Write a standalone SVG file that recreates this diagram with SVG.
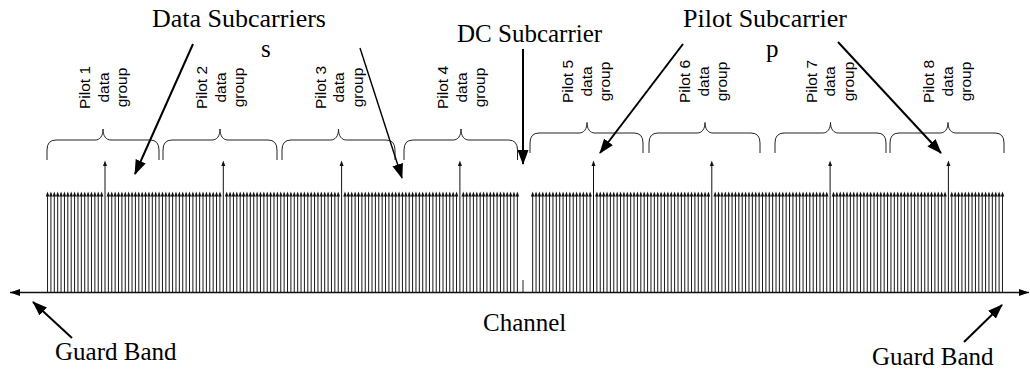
<svg xmlns="http://www.w3.org/2000/svg" width="1030" height="369" viewBox="0 0 1030 369">
<style>
.br{fill:none;stroke:#222;stroke-width:1}
.lab{font-family:"Liberation Serif","Times New Roman",serif;font-size:25px;fill:#000}
.big{font-size:26px}
.gl{font-family:"Liberation Sans",Arial,sans-serif;font-size:15.5px;fill:#000;text-anchor:middle}
.arr{stroke:#000;stroke-width:2;fill:none;marker-end:url(#ah)}
.axis{stroke:#111;stroke-width:1.3;fill:none;marker-start:url(#ax);marker-end:url(#ax)}
</style>
<defs>
<marker id="ah" markerUnits="userSpaceOnUse" viewBox="0 0 15 11" markerWidth="15" markerHeight="11" refX="14" refY="5.5" orient="auto"><path d="M0,0 L15,5.5 L0,11 Z" fill="#000"/></marker>
<marker id="ax" markerUnits="userSpaceOnUse" viewBox="0 0 10 7" markerWidth="10" markerHeight="7" refX="10" refY="3.5" orient="auto-start-reverse"><path d="M0,0 L10,3.5 L0,7 Z" fill="#000"/></marker>
<g id="d"><line x1="0" y1="195" x2="0" y2="292.5" stroke="#1a1a1a" stroke-width="1"/><path d="M-1.8,196.5 L0,191.5 L1.8,196.5 Z" fill="#111"/></g>
<g id="d5"><use href="#d"/><use href="#d" x="3.38"/><use href="#d" x="6.76"/><use href="#d" x="10.14"/><use href="#d" x="13.52"/></g>
<g id="d10"><use href="#d5"/><use href="#d5" x="16.9"/></g>
<g id="d30"><use href="#d10"/><use href="#d10" x="33.8"/><use href="#d10" x="67.6"/></g>
<g id="d34"><use href="#d30"/><use href="#d" x="101.4"/><use href="#d" x="104.78"/><use href="#d" x="108.16"/><use href="#d" x="111.54"/></g>
<g id="d16"><use href="#d10"/><use href="#d5" x="33.8"/><use href="#d" x="50.7"/></g>
<g id="d17"><use href="#d16"/><use href="#d" x="54.08"/></g>
<g id="d18"><use href="#d17"/><use href="#d" x="57.46"/></g>
<g id="p"><line x1="0" y1="165" x2="0" y2="292.5" stroke="#111" stroke-width="1"/><path d="M-2,166 L0,160.5 L2,166 Z" fill="#111"/></g>
</defs>
<rect width="1030" height="369" fill="#fff"/>

<g id="subcarriers">
<use href="#d17" x="47.54"/>
<use href="#p" x="105"/>
<use href="#d34" x="108.38"/>
<use href="#p" x="223.3"/>
<use href="#d34" x="226.68"/>
<use href="#p" x="341.6"/>
<use href="#d34" x="344.98"/>
<use href="#p" x="459.9"/>
<use href="#d17" x="463.28"/>
<line x1="523" y1="280" x2="523" y2="292.5" stroke="#222" stroke-width="1"/>
<use href="#d18" x="532.66"/>
<use href="#p" x="593.5"/>
<use href="#d34" x="596.88"/>
<use href="#p" x="711.8"/>
<use href="#d34" x="715.18"/>
<use href="#p" x="830.1"/>
<use href="#d34" x="833.48"/>
<use href="#p" x="948.4"/>
<use href="#d16" x="951.78"/>
</g>

<g id="axis"><line class="axis" x1="10" y1="292.5" x2="1029" y2="292.5"/></g>

<g id="group1"><path class="br" d="M47,160 V150 Q47,140 56,140 H95 C100,140 103,136 103,129 C103,136 106,140 111,140 H150 Q159,140 159,150 V160"/>
<text class="gl" transform="translate(90,87.5) rotate(-90)">Pilot 1</text><text class="gl" transform="translate(108.5,87.5) rotate(-90)">data</text><text class="gl" transform="translate(127,87.5) rotate(-90)">group</text></g>
<g id="group2"><path class="br" d="M163,160 V150 Q163,140 172,140 H212 C217,140 220,136 220,129 C220,136 223,140 228,140 H268 Q277,140 277,150 V160"/>
<text class="gl" transform="translate(207,87.5) rotate(-90)">Pilot 2</text><text class="gl" transform="translate(225.5,87.5) rotate(-90)">data</text><text class="gl" transform="translate(244,87.5) rotate(-90)">group</text></g>
<g id="group3"><path class="br" d="M282,160 V150 Q282,140 291,140 H330.5 C335.5,140 338.5,136 338.5,129 C338.5,136 341.5,140 346.5,140 H386 Q395,140 395,150 V160"/>
<text class="gl" transform="translate(325.5,87.5) rotate(-90)">Pilot 3</text><text class="gl" transform="translate(344,87.5) rotate(-90)">data</text><text class="gl" transform="translate(362.5,87.5) rotate(-90)">group</text></g>
<g id="group4"><path class="br" d="M404,160 V150 Q404,140 413,140 H453 C458,140 461,136 461,129 C461,136 464,140 469,140 H508.5 Q517.5,140 517.5,150 V160"/>
<text class="gl" transform="translate(448,87.5) rotate(-90)">Pilot 4</text><text class="gl" transform="translate(466.5,87.5) rotate(-90)">data</text><text class="gl" transform="translate(485,87.5) rotate(-90)">group</text></g>
<g id="group5"><path class="br" d="M530,153 V143 Q530,133 539,133 H579 C584,133 587,129 587,122.5 C587,129 590,133 595,133 H634 Q643,133 643,143 V153"/>
<text class="gl" transform="translate(573,81.5) rotate(-90)">Pilot 5</text><text class="gl" transform="translate(591.5,81.5) rotate(-90)">data</text><text class="gl" transform="translate(610,81.5) rotate(-90)">group</text></g>
<g id="group6"><path class="br" d="M649,153 V143 Q649,133 658,133 H697 C702,133 705,129 705,122.5 C705,129 708,133 713,133 H751 Q760,133 760,143 V153"/>
<text class="gl" transform="translate(690,81.5) rotate(-90)">Pilot 6</text><text class="gl" transform="translate(708.5,81.5) rotate(-90)">data</text><text class="gl" transform="translate(727,81.5) rotate(-90)">group</text></g>
<g id="group7"><path class="br" d="M775,153 V143 Q775,133 784,133 H822.5 C827.5,133 830.5,129 830.5,122.5 C830.5,129 833.5,133 838.5,133 H877 Q886,133 886,143 V153"/>
<text class="gl" transform="translate(816.5,81.5) rotate(-90)">Pilot 7</text><text class="gl" transform="translate(835,81.5) rotate(-90)">data</text><text class="gl" transform="translate(853.5,81.5) rotate(-90)">group</text></g>
<g id="group8"><path class="br" d="M890,153 V143 Q890,133 899,133 H940 C945,133 948,129 948,122.5 C948,129 951,133 956,133 H995 Q1004,133 1004,143 V153"/>
<text class="gl" transform="translate(934,81.5) rotate(-90)">Pilot 8</text><text class="gl" transform="translate(952.5,81.5) rotate(-90)">data</text><text class="gl" transform="translate(971,81.5) rotate(-90)">group</text></g>

<g id="labels">
<text class="lab big" x="152" y="27">Data Subcarriers</text>
<text class="lab" x="261" y="57">s</text>
<text class="lab" x="457" y="42">DC Subcarrier</text>
<text class="lab big" x="683" y="27">Pilot Subcarrier</text>
<text class="lab" x="766" y="57">p</text>
<text class="lab" x="483" y="331">Channel</text>
<text class="lab" x="55" y="360">Guard Band</text>
<text class="lab" x="872" y="365">Guard Band</text>
</g>

<g id="connectors">
<line class="arr" x1="193" y1="44" x2="135" y2="174"/>
<line class="arr" x1="360" y1="48" x2="402" y2="178" style="stroke-width:1.4"/>
<line class="arr" x1="523" y1="49" x2="523" y2="164"/>
<line class="arr" x1="683" y1="44" x2="600" y2="153"/>
<line class="arr" x1="838" y1="42" x2="941" y2="153"/>
<line class="arr" x1="72" y1="338" x2="33" y2="302"/>
<line class="arr" x1="964" y1="342" x2="1002" y2="305"/>
</g>
</svg>
